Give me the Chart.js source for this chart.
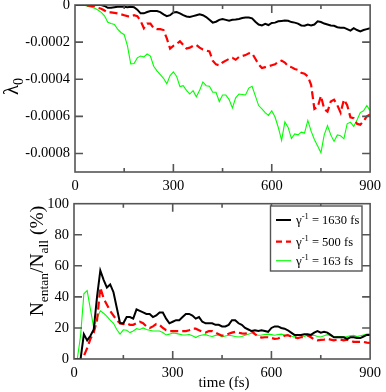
<!DOCTYPE html>
<html><head><meta charset="utf-8">
<script src="https://cdn.jsdelivr.net/npm/chart.js@4"></script>
<style>
html,body{margin:0;padding:0;background:#fff;overflow:hidden;width:386px;height:392px;position:relative}
canvas{position:absolute;left:0}
#c1{top:-10px}
#c2{top:190px}
</style></head><body>
<canvas id="c1" width="386" height="205"></canvas>
<canvas id="c2" width="386" height="202"></canvas>
<script>
// ---------- DATA ----------
const time = [
  0,10,20,30,40,50,60,70,80,90,
  100,110,120,130,140,150,160,170,180,190,
  200,210,220,230,240,250,260,270,280,290,
  300,310,320,330,340,350,360,370,380,390,
  400,410,420,430,440,450,460,470,480,490,
  500,510,520,530,540,550,560,570,580,590,
  600,610,620,630,640,650,660,670,680,690,
  700,710,720,730,740,750,760,770,780,790,
  800,810,820,830,840,850,860,870,880,890,900];

const seriesNames = ['1630 fs','500 fs','163 fs'];

// top panel: lambda_0 in units of 1e-4
const lambda1630 = [
  0,0,0,0,0,0,0,0,0,-0.05,
  -0.15,-0.15,-0.12,-0.1,-0.1,-0.1,-0.12,-0.1,-0.12,-0.25,
  -0.45,-0.45,-0.38,-0.33,-0.33,-0.33,-0.38,-0.5,-0.6,-0.55,
  -0.4,-0.38,-0.45,-0.55,-0.62,-0.65,-0.6,-0.55,-0.5,-0.55,
  -0.65,-0.8,-0.95,-0.9,-0.8,-0.75,-0.8,-0.85,-0.8,-0.78,
  -0.75,-0.7,-0.68,-0.68,-0.72,-0.9,-1.05,-1.1,-1.02,-1.08,
  -0.97,-0.95,-0.88,-0.86,-0.84,-0.85,-0.92,-0.95,-1.0,-1.1,
  -1.12,-1.05,-1.1,-1.05,-0.88,-0.92,-1.0,-1.05,-1.1,-1.12,
  -1.2,-1.22,-1.22,-1.3,-1.38,-1.25,-1.35,-1.42,-1.35,-1.3,-1.25];
const lambda500 = [
  0,0,0,0,-0.03,-0.05,-0.08,-0.15,-0.2,-0.3,
  -0.4,-0.4,-0.42,-0.45,-0.5,-0.55,-0.6,-0.62,-0.55,-0.6,
  -0.85,-1.25,-1.0,-1.0,-1.25,-1.3,-1.3,-1.35,-1.8,-2.35,
  -2.2,-2.1,-1.95,-2.15,-2.35,-2.3,-2.2,-2.15,-2.3,-2.4,
  -2.45,-2.5,-3.0,-3.2,-3.25,-3.1,-3.0,-2.9,-2.85,-2.95,
  -2.8,-2.75,-2.7,-2.6,-2.6,-2.9,-3.2,-3.4,-3.35,-3.3,
  -3.25,-3.2,-3.05,-3.0,-3.1,-3.3,-3.35,-3.45,-3.5,-3.65,
  -3.7,-3.85,-4.3,-5.6,-5.5,-4.9,-5.6,-5.75,-5.2,-5.1,
  -5.4,-5.8,-5.1,-5.4,-6.05,-6.1,-6.4,-6.45,-6.25,-6.0,-5.9];
const lambda163 = [
  0,0,0,-0.03,-0.07,-0.12,-0.18,-0.27,-0.4,-0.58,
  -0.93,-1.0,-1.05,-1.3,-1.48,-1.6,-2.2,-3.17,-3.15,-2.85,
  -2.75,-2.8,-2.64,-2.75,-3.3,-3.55,-3.75,-3.95,-4.25,-3.8,
  -3.6,-3.85,-4.4,-4.35,-4.6,-4.8,-4.62,-4.95,-4.6,-4.15,
  -4.35,-4.38,-4.7,-4.7,-5.2,-4.85,-4.85,-5.1,-5.55,-5.0,
  -4.8,-4.82,-4.85,-4.48,-4.38,-4.9,-5.42,-5.6,-5.8,-5.95,
  -5.7,-6.04,-6.6,-7.3,-6.3,-6.6,-7.2,-6.95,-7.0,-6.85,
  -6.9,-6.22,-6.8,-7.25,-7.6,-7.96,-7.0,-6.5,-7.0,-7.35,
  -7.0,-7.05,-7.21,-6.4,-6.31,-6.55,-6.2,-5.8,-5.7,-5.42,-5.7];

// bottom panel: N_entan / N_all in %
const ratio1630 = [
  0,0,0,16,12,15,19,40,57,51,
  46,48,43,33,23,23,27,27,26,32,
  31,30,29,29,27,28,30,30,26,23,
  24,25,25,27,29,29,28,26,27,24,
  23,23,23,22,22,21,21,22,25,25,
  23,22,20,19,18,18.5,18,18.5,18,17.5,
  20,21,21,20,19.5,18.5,17,15.5,15.5,15.5,
  16,16,15.5,17,18,17,17.5,17,15.5,14,
  14,14,14,13,14,14,13.5,13.5,14.5,15.5,15.5];
const ratio500 = [
  0,0,0,2,7,13,17,25,46,39,
  35,31,28,25,23,22.5,23,22,22,23,
  24,23,21,20,21,22.5,22,20,18.5,18,
  18,18,18,18,18,18.5,19.5,19.5,18.5,17.5,
  17,18,18,17,16,15,15.5,16.3,17,17.5,
  17,16.5,16.3,17,18,16,14.5,13.8,14,14,
  13.5,13,13.2,14,15,15.3,14.5,14,13.5,14,
  14.2,15.3,14,12.5,12,12.3,12.5,13,12.5,12,
  12.5,12.5,12,12.5,12,11,11,11,11,10.5,10.4];
const ratio163 = [
  0,0,15,42,44,32,20,26,31,29.5,
  27.5,25,23,19,16,18.8,18.5,17,18,19.5,
  19,20,19,18.5,18,18,18,17,15.5,16,
  16.7,16.5,16,15.5,15.5,15.8,15,13.8,15,15.5,
  15.7,15,14.5,15.2,15.5,14.2,14.8,15.3,15,14.5,
  14.2,14.5,15.3,16,16.7,15.8,15.3,15.5,15.8,16,
  15.7,15.3,15.8,16,15.5,15.3,14.7,14.2,15.8,15,
  14.5,15.5,15.2,15.3,14.5,14.2,15,15.7,15,14.2,
  14.5,14.5,14.2,14.5,15,15.2,14.4,15,15.5,16,16.3];

const xTicks = [0,300,600,900];
const xMinorTicks = [150,450,750];
const topYTicks = [0,-2,-4,-6,-8];      // x 1e-4
const botYTicks = [0,20,40,60,80,100];

// ---------- HELPERS ----------
const SERIF = "'Liberation Serif','Times New Roman',serif";
function pts(ys){ return time.map((t,i)=>({x:t,y:ys[i]})); }
function richWidth(ctx, parts){
  let w=0; parts.forEach(p=>{ctx.font=p.s+'px '+SERIF; w+=ctx.measureText(p.t).width;}); return w;
}
function drawRich(ctx, parts, x, y, align){
  let cx = x;
  if(align==='center') cx = x - richWidth(ctx,parts)/2;
  ctx.textBaseline='alphabetic'; ctx.textAlign='left';
  parts.forEach(p=>{ctx.font=p.s+'px '+SERIF; ctx.fillText(p.t, cx, y+(p.dy||0)); cx+=ctx.measureText(p.t).width;});
}

const framePlugin = {
  id:'frame',
  afterDatasetsDraw(chart, args, o){
    const {ctx, chartArea:a, scales:{x,y}} = chart;
    ctx.save();
    ctx.strokeStyle='#555'; ctx.lineWidth=1.6;
    ctx.beginPath();
    xTicks.forEach(v=>{ if(v===0||v===900) return; const p=x.getPixelForValue(v);
      ctx.moveTo(p,a.bottom); ctx.lineTo(p,a.bottom-8); ctx.moveTo(p,a.top); ctx.lineTo(p,a.top+8); });
    xMinorTicks.forEach(v=>{ const p=x.getPixelForValue(v);
      ctx.moveTo(p,a.bottom); ctx.lineTo(p,a.bottom-4); ctx.moveTo(p,a.top); ctx.lineTo(p,a.top+4); });
    o.yt.forEach(v=>{ const p=y.getPixelForValue(v); if(Math.abs(p-a.top)<1||Math.abs(p-a.bottom)<1) return;
      ctx.moveTo(a.left,p); ctx.lineTo(a.left+8,p); ctx.moveTo(a.right,p); ctx.lineTo(a.right-8,p); });
    ctx.stroke();
    ctx.strokeRect(a.left, a.top, a.right-a.left, a.bottom-a.top);
    ctx.restore();
  },
  afterDraw(chart, args, o){ if(o.extra) o.extra(chart.ctx, chart); }
};

function baseOpts(yMin, yMax, yt, yCb, yWidth, xHeight, pad, extra){
  return {
    responsive:false, animation:false, devicePixelRatio:1,
    layout:{padding:pad},
    plugins:{legend:{display:false}, tooltip:{enabled:false}, frame:{yt, extra}},
    elements:{point:{radius:0}, line:{tension:0}},
    scales:{
      x:{type:'linear', min:0, max:900,
        afterBuildTicks:s=>{s.ticks=xTicks.map(v=>({value:v}));},
        afterFit:s=>{s.height=xHeight;},
        grid:{display:false, drawTicks:false}, border:{display:false},
        ticks:{autoSkip:false, maxRotation:0, padding:5, color:'#000', font:{family:SERIF,size:14.5}}},
      y:{type:'linear', min:yMin, max:yMax,
        afterBuildTicks:s=>{s.ticks=yt.map(v=>({value:v}));},
        afterFit:s=>{s.width=yWidth;},
        grid:{display:false, drawTicks:false}, border:{display:false},
        ticks:{autoSkip:false, padding:5, color:'#000', font:{family:SERIF,size:14.5}, callback:yCb}}
    }
  };
}

function makeSets(a,b,c){
  return [
    {data:pts(a), borderColor:'#000000', borderWidth:2, fill:false},
    {data:pts(b), borderColor:'#ff0000', borderWidth:2.2, borderDash:[8,4], fill:false},
    {data:pts(c), borderColor:'#00ff00', borderWidth:1.1, fill:false}
  ];
}

// ---------- TOP CHART ----------
new Chart(document.getElementById('c1'), {
  type:'line',
  data:{datasets:makeSets(lambda1630, lambda500, lambda163)},
  options:baseOpts(-9, 0, topYTicks, v=> v===0 ? '0' : (v*1e-4).toFixed(4), 75, 23,
    {top:15, right:13, left:0, bottom:0},
    (ctx)=>{
      ctx.save(); ctx.fillStyle='#000';
      ctx.translate(18, 96.5); ctx.rotate(-Math.PI/2);
      drawRich(ctx, [{t:'λ',s:21},{t:'0',s:14,dy:5}], 0, 0, 'center');
      ctx.restore();
    }),
  plugins:[framePlugin]
});

// ---------- BOTTOM CHART ----------
new Chart(document.getElementById('c2'), {
  type:'line',
  data:{datasets:makeSets(ratio1630, ratio500, ratio163)},
  options:baseOpts(0, 100, botYTicks, v=>String(v), 74, 33,
    {top:12, right:12, left:0, bottom:0},
    (ctx)=>{
      ctx.save(); ctx.fillStyle='#000';
      // y title
      ctx.save();
      ctx.translate(43, 71); ctx.rotate(-Math.PI/2);
      drawRich(ctx, [{t:'N',s:19.5},{t:'entan',s:13.5,dy:5},{t:'/N',s:19.5},{t:'all',s:13.5,dy:5},{t:' (%)',s:19.5}], 0, 0, 'center');
      ctx.restore();
      // x title
      drawRich(ctx, [{t:'time (fs)',s:15}], 224, 197, 'center');
      // legend
      const bx=270.5, by=16, bw=91.5, bh=65;
      ctx.fillStyle='#fff'; ctx.fillRect(bx,by,bw,bh);
      ctx.strokeStyle='#555'; ctx.lineWidth=1.4; ctx.strokeRect(bx,by,bw,bh);
      const rows=[30,51.7,70.7];
      const styles=[{c:'#000',w:2,d:[]},{c:'#ff0000',w:2.2,d:[6,4]},{c:'#00ff00',w:1.1,d:[]}];
      rows.forEach((ry,i)=>{
        ctx.save(); ctx.strokeStyle=styles[i].c; ctx.lineWidth=styles[i].w; ctx.setLineDash(styles[i].d);
        ctx.beginPath(); ctx.moveTo(276,ry); ctx.lineTo(291,ry); ctx.stroke(); ctx.restore();
        ctx.fillStyle='#000';
        drawRich(ctx, [{t:'γ',s:13},{t:'-1',s:8.5,dy:-5},{t:' = '+seriesNames[i],s:12.5}], 296, ry+4, 'left');
      });
      ctx.restore();
    }),
  plugins:[framePlugin]
});
</script>
</body></html>
